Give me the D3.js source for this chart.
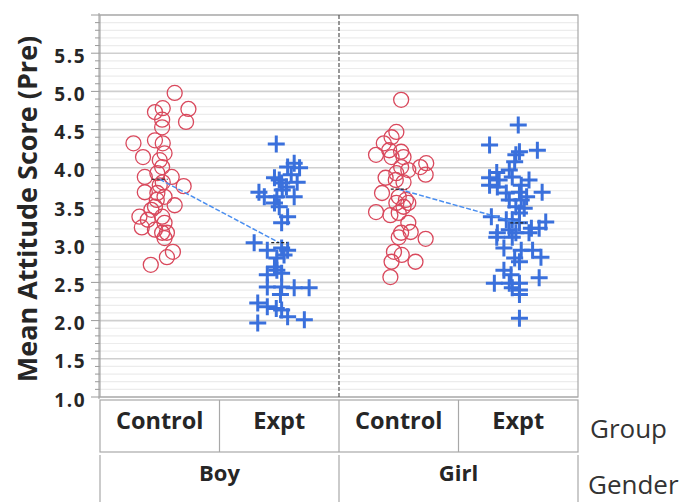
<!DOCTYPE html>
<html>
<head>
<meta charset="utf-8">
<script src="https://cdn.jsdelivr.net/npm/d3@7"></script>
<style>
  body { margin: 0; background: #fff; }
  svg { display: block; font-family: "Open Sans", "Noto Sans", sans-serif; }
</style>
</head>
<body>
<svg id="chart" width="689" height="502"></svg>
<script>
// categories
const genders = ["Boy", "Girl"];
const groups = ["Control", "Expt"];
const yTicks = [1.0, 1.5, 2.0, 2.5, 3.0, 3.5, 4.0, 4.5, 5.0, 5.5];

// [value, jitter (fraction of the cell width)]
const boyControl = [
  [4.98, 0.125], [4.77, 0.24], [4.73, -0.04], [4.78, 0.025], [4.60, 0.22], [4.63, 0.02],
  [4.53, 0.02], [4.32, -0.22], [4.36, -0.04], [4.32, 0.025], [4.14, -0.14], [4.19, 0.04],
  [4.10, 0.0], [4.01, 0.02], [3.93, -0.02], [3.88, -0.125], [3.88, 0.1], [3.76, 0.2],
  [3.68, -0.125], [3.67, -0.02], [3.62, 0.04], [3.51, 0.125], [3.49, -0.04], [3.36, -0.17],
  [3.32, -0.1], [3.36, 0.02], [3.28, 0.04], [3.22, -0.15], [3.19, -0.04], [3.15, 0.06],
  [3.45, -0.07], [3.15, 0.02], [3.08, 0.04], [2.90, 0.11], [2.83, 0.06], [2.73, -0.075],
  [3.77, 0.0], [3.81, 0.025], [3.58, -0.025]
];
const boyExpt = [
  [4.31, -0.025], [4.06, 0.125], [4.00, 0.17], [4.01, 0.07], [3.87, -0.04], [3.80, 0.02],
  [3.75, 0.06], [3.81, 0.15], [3.91, 0.1], [3.68, -0.17], [3.62, -0.125], [3.62, -0.02],
  [3.62, 0.125], [3.54, -0.04], [3.49, 0.0], [3.36, 0.07], [3.28, 0.02], [3.02, -0.21],
  [2.92, -0.1], [2.95, 0.02], [2.92, 0.07], [2.86, 0.04], [2.70, -0.04], [2.66, -0.02],
  [2.60, -0.1], [2.62, 0.02], [2.44, -0.1], [2.44, 0.02], [2.43, 0.125], [2.43, 0.25],
  [2.23, -0.18], [2.18, -0.1], [2.16, -0.025], [2.14, 0.02], [2.05, 0.07], [2.01, 0.21],
  [1.97, -0.18], [3.84, 0.0], [3.71, 0.025], [2.82, -0.02], [2.34, 0.01]
];
const girlControl = [
  [4.89, 0.02], [4.47, -0.02], [4.40, -0.06], [4.32, -0.125], [4.17, -0.19], [4.23, -0.08],
  [4.21, 0.02], [4.14, -0.06], [4.14, 0.04], [4.06, 0.23], [4.01, 0.18], [3.91, 0.225],
  [4.01, 0.02], [3.93, -0.02], [3.97, 0.08], [3.87, -0.11], [3.84, -0.025], [3.81, 0.04],
  [3.67, -0.14], [3.62, 0.0], [3.58, 0.06], [3.54, -0.02], [3.49, 0.04], [3.42, -0.19],
  [3.38, -0.07], [3.41, 0.0], [3.54, 0.08], [3.28, 0.08], [3.15, 0.02], [3.16, 0.1],
  [3.09, 0.0], [3.07, 0.225], [2.90, -0.04], [2.86, 0.025], [2.77, -0.06], [2.77, 0.14],
  [2.57, -0.07]
];
const girlExpt = [
  [4.56, 0.0], [4.30, -0.24], [4.23, 0.16], [4.17, -0.02], [4.21, 0.01], [4.08, -0.03],
  [3.94, -0.18], [3.97, -0.075], [3.87, -0.24], [3.84, -0.16], [3.88, -0.05], [3.84, 0.09],
  [3.77, -0.24], [3.75, -0.175], [3.77, 0.025], [3.68, 0.2], [3.67, -0.1], [3.68, 0.01],
  [3.58, -0.075], [3.58, 0.025], [3.62, 0.07], [3.49, -0.02], [3.47, 0.05], [3.36, -0.225],
  [3.32, -0.05], [3.28, 0.01], [3.29, 0.23], [3.15, -0.175], [3.19, -0.075], [3.15, -0.02],
  [3.21, 0.175], [3.15, 0.09], [3.32, -0.1], [3.41, 0.01], [3.21, 0.11], [3.09, -0.18],
  [3.09, -0.05], [2.95, -0.12], [2.92, 0.025], [2.92, 0.12], [2.83, 0.19], [2.82, -0.03],
  [2.77, 0.01], [2.66, -0.12], [2.60, -0.06], [2.56, 0.175], [2.49, -0.2], [2.49, -0.075],
  [2.49, 0.01], [2.43, -0.05], [2.40, 0.01], [2.34, 0.01], [2.03, 0.01]
];

// group means, as drawn by the connecting line
const boyMeans = [3.85, 3.02];
const girlMeans = [3.72, 3.28];

const cells = [
  { gender: "Boy", group: "Control", pts: boyControl },
  { gender: "Boy", group: "Expt", pts: boyExpt },
  { gender: "Girl", group: "Control", pts: girlControl },
  { gender: "Girl", group: "Expt", pts: girlExpt }
];
const meansByGender = { Boy: boyMeans, Girl: girlMeans };

const svg = d3.select("#chart");
const plot = { left: 100, right: 578, top: 15, bottom: 397 };

const y = d3.scaleLinear().domain([1.0, 6.0]).range([plot.bottom, plot.top]);
const xGender = d3.scaleBand().domain(genders).range([plot.left, plot.right]);
const xGroup = d3.scaleBand().domain(groups).range([0, xGender.bandwidth()]);
const cx = (g, grp) => xGender(g) + xGroup(grp) + xGroup.bandwidth() / 2;

// gridlines
const minor = d3.range(10, 61).map(d => d / 10);
const isMajor = d => Math.round(d * 10) % 5 === 0;
svg.append("g").selectAll("line").data(minor).join("line")
  .attr("x1", plot.left).attr("x2", plot.right)
  .attr("y1", d => y(d)).attr("y2", d => y(d))
  .attr("stroke", d => isMajor(d) ? "#cfcfcf" : "#ececec")
  .attr("stroke-width", d => isMajor(d) ? 1.6 : 1.2);

// y axis ticks
const axisG = svg.append("g").attr("transform", `translate(${plot.left},0)`);
axisG.selectAll("line.minor").data(minor).join("line")
  .attr("class", "minor")
  .attr("x1", d => isMajor(d) ? -9 : -5).attr("x2", 0)
  .attr("y1", d => y(d)).attr("y2", d => y(d))
  .attr("stroke", "#9a9a9a").attr("stroke-width", 1);
axisG.append("line").attr("x1", -1).attr("x2", -1)
  .attr("y1", plot.top - 2).attr("y2", plot.bottom + 2)
  .attr("stroke", "#9a9a9a");
axisG.selectAll("text").data(yTicks).join("text")
  .attr("x", -14).attr("y", d => y(d)).attr("dy", "0.5em")
  .attr("text-anchor", "end")
  .attr("font-size", 19).attr("font-weight", 700).attr("fill", "#262626")
  .attr("letter-spacing", 1.5)
  .text(d => d.toFixed(1));

svg.append("text")
  .attr("transform", `translate(37,209) rotate(-90)`)
  .attr("text-anchor", "middle")
  .attr("font-size", 27).attr("font-weight", 700).attr("fill", "#262626")
  .text("Mean Attitude Score (Pre)");

// frame and gender divider
svg.append("rect")
  .attr("x", plot.left).attr("y", plot.top)
  .attr("width", plot.right - plot.left).attr("height", plot.bottom - plot.top)
  .attr("fill", "none").attr("stroke", "#a8a8a8").attr("stroke-width", 1.2);
svg.append("line")
  .attr("x1", xGender("Girl")).attr("x2", xGender("Girl"))
  .attr("y1", plot.top).attr("y2", plot.bottom)
  .attr("stroke", "#555").attr("stroke-width", 1.2).attr("stroke-dasharray", "4,2");

// points
const red = "#d9485c", blue = "#3a70dc";
cells.forEach(c => {
  const x0 = cx(c.gender, c.group);
  const w = xGroup.bandwidth();
  const g = svg.append("g");
  if (c.group === "Control") {
    g.selectAll("circle").data(c.pts).join("circle")
      .attr("cx", d => x0 + d[1] * w).attr("cy", d => y(d[0])).attr("r", 7.5)
      .attr("fill", "none").attr("stroke", red).attr("stroke-width", 1.3);
  } else {
    g.selectAll("path").data(c.pts).join("path")
      .attr("transform", d => `translate(${x0 + d[1] * w},${y(d[0])})`)
      .attr("d", "M-8.5,0H8.5M0,-8.5V8.5")
      .attr("stroke", blue).attr("stroke-width", 3);
  }
});

// mean connecting lines and mean markers
genders.forEach(gd => {
  const m = meansByGender[gd];
  svg.append("line")
    .attr("x1", cx(gd, "Control")).attr("y1", y(m[0]))
    .attr("x2", cx(gd, "Expt")).attr("y2", y(m[1]))
    .attr("stroke", "#4a8ef0").attr("stroke-width", 1.5).attr("stroke-dasharray", "5,2");
  groups.forEach((grp, i) => {
    svg.append("line")
      .attr("x1", cx(gd, grp) - 8).attr("x2", cx(gd, grp) + 8)
      .attr("y1", y(m[i])).attr("y2", y(m[i]))
      .attr("stroke", "#222").attr("stroke-width", 1.2).attr("stroke-dasharray", "3,2");
  });
});

// category table below the plot
const rowGroup = { top: 400, bottom: 452 };
const rowGender = { top: 455, bottom: 502 };
const tbl = svg.append("g").attr("stroke", "#a8a8a8").attr("stroke-width", 1.2);
tbl.append("rect").attr("x", plot.left).attr("y", rowGroup.top)
  .attr("width", plot.right - plot.left).attr("height", rowGroup.bottom - rowGroup.top)
  .attr("fill", "none");
const groupEdges = [];
genders.forEach(gd => groups.forEach(grp => groupEdges.push(xGender(gd) + xGroup(grp))));
tbl.selectAll("line.gcol").data(groupEdges.slice(1)).join("line")
  .attr("class", "gcol")
  .attr("x1", d => d).attr("x2", d => d).attr("y1", rowGroup.top).attr("y2", rowGroup.bottom);
const genderEdges = genders.map(g => xGender(g)).concat([plot.right]);
tbl.selectAll("line.gdcol").data(genderEdges).join("line")
  .attr("class", "gdcol")
  .attr("x1", d => d).attr("x2", d => d).attr("y1", rowGender.top).attr("y2", rowGender.bottom);

genders.forEach(gd => groups.forEach(grp => {
  svg.append("text")
    .attr("x", cx(gd, grp)).attr("y", 429)
    .attr("text-anchor", "middle")
    .attr("font-size", 23.5).attr("font-weight", 700).attr("fill", "#262626")
    .text(grp);
}));
genders.forEach(gd => {
  svg.append("text")
    .attr("x", xGender(gd) + xGender.bandwidth() / 2).attr("y", 481)
    .attr("text-anchor", "middle")
    .attr("font-size", 22).attr("font-weight", 700).attr("fill", "#262626")
    .text(gd);
});
svg.append("text").attr("x", 590).attr("y", 438)
  .attr("font-size", 26).attr("fill", "#333").text("Group");
svg.append("text").attr("x", 588).attr("y", 494)
  .attr("font-size", 26).attr("fill", "#333").text("Gender");
</script>
</body>
</html>
